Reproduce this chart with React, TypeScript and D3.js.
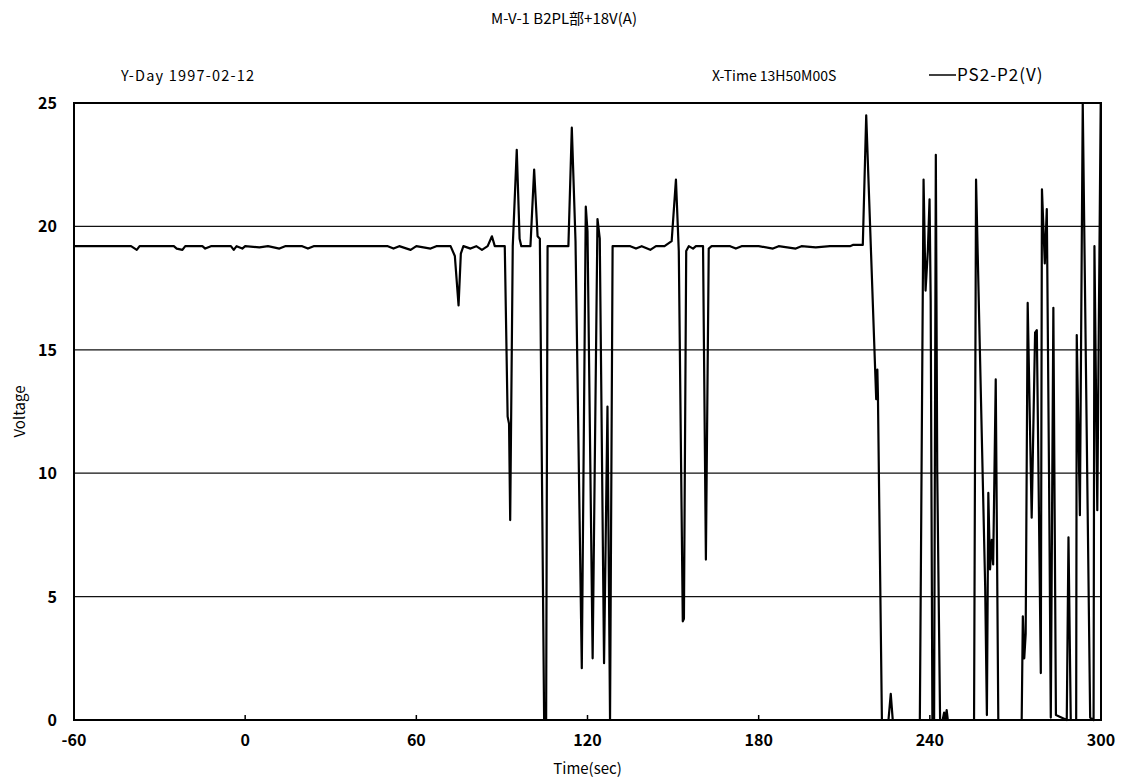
import React from "react";
import * as d3 from "d3";

const title = "M-V-1 B2PL部+18V(A)";
const yDayLabel = "Y-Day 1997-02-12";
const xTimeLabel = "X-Time 13H50M00S";
const seriesName = "PS2-P2(V)";
const xTicks = [-60, 0, 60, 120, 180, 240, 300];
const yTicks = [0, 5, 10, 15, 20, 25];
const gridValues = [5, 10, 15, 20];

const times = [
  -60, -40, -38, -37, -30, -25, -24, -22, -21, -15, -14, -12, -5, -4, -3, -1, 0,
  5, 8, 12, 14, 20, 22, 24, 30, 40, 50, 52, 54, 58, 60, 65, 67,
  72, 73.5, 74.8, 75.6, 76.5, 79, 81, 83, 85, 86.5, 87.5, 91,
  92, 92.5, 92.9, 93.8, 95.2, 96.2, 96.8, 100,
  101.3, 102.5, 103.3, 104.8, 105.5, 106,
  113.3, 114.5, 115.8, 118, 119.4, 120, 121.8, 123.5, 124.3, 125.8, 127, 127.9, 128.8,
  135, 137, 139, 142, 144, 147, 149.5, 151, 152, 153.4, 153.8, 154.6, 155.5, 157, 158,
  160.5, 161.5, 162.5, 163.5,
  170, 172, 174, 180, 185, 187, 193, 195, 200, 205, 212, 213, 216.5,
  217.7, 220.8, 221.2, 221.6, 221.8, 223.2, 225.5, 226.3, 227, 236.5,
  237.8, 238.5, 239.3, 239.9, 240.3, 240.9, 241.5, 242.1, 242.6, 243.6,
  244.5, 245, 245.4, 245.9, 246.3, 255.5,
  256.2, 259.4, 260, 260.5, 261.1, 261.7, 262.2, 263.1, 264,
  272.2, 272.6, 273.1, 273.6, 274.3, 275.7, 276.9, 277.5, 278.9, 279.3, 280.3, 281,
  281.8, 282.4, 283.3, 284.2, 288, 288.6, 289.4, 291.3, 291.5, 292.6, 293.6,
  296.2, 297.4, 297.7, 298.7, 299.2, 299.9,
];

const volts = [
  19.2, 19.2, 19.05, 19.2, 19.2, 19.2, 19.1, 19.05, 19.2, 19.2, 19.1, 19.2, 19.2, 19.05, 19.2, 19.1, 19.2,
  19.15, 19.2, 19.1, 19.2, 19.2, 19.1, 19.2, 19.2, 19.2, 19.2, 19.1, 19.2, 19.05, 19.2, 19.1, 19.2,
  19.2, 18.8, 16.8, 18.9, 19.2, 19.1, 19.2, 19.05, 19.2, 19.6, 19.2, 19.2,
  12.3, 12.0, 8.1, 19.2, 23.1, 19.5, 19.2, 19.2,
  22.3, 19.6, 19.5, 0, 0, 19.2,
  19.2, 24.0, 19.4, 2.1, 20.8, 19.8, 2.5, 20.3, 19.5, 2.3, 12.7, 0, 19.2,
  19.2, 19.1, 19.2, 19.05, 19.2, 19.2, 19.4, 21.9, 19.0, 4.0, 4.1, 19.0, 19.2, 19.1, 19.2,
  19.2, 6.5, 19.1, 19.2,
  19.2, 19.1, 19.2, 19.2, 19.1, 19.2, 19.1, 19.2, 19.15, 19.2, 19.2, 19.25, 19.25,
  24.5, 14.3, 13.0, 14.2, 13.2, 0, 0, 1.06, 0, 0,
  21.9, 17.4, 19.0, 21.1, 17.0, 0, 0, 22.9, 10.0, 0,
  0, 0.3, 0, 0.4, 0, 0,
  21.9, 5.4, 0.2, 9.2, 6.1, 7.3, 6.3, 13.8, 0,
  0, 4.2, 2.5, 3.5, 16.9, 8.2, 15.7, 15.8, 1.9, 21.5, 18.5, 20.7,
  9.7, 0.1, 16.7, 0.2, 0, 7.4, 0, 0, 15.6, 8.3, 25,
  0.1, 0, 19.2, 8.5, 15.5, 25,
];

const W = 1126;
const H = 782;
const left = 74;
const right = 1101;
const top = 103;
const bottom = 720;

const fontFamily = "'Liberation Sans Narrow', 'Noto Sans CJK JP', 'Liberation Sans', sans-serif";

export default function App() {
  const x = d3.scaleLinear().domain([-60, 300]).range([left, right]);
  const y = d3.scaleLinear().domain([0, 25]).range([bottom, top]);
  const pts = times.map((t, i) => [t, volts[i]] as [number, number]);
  const line = d3
    .line<[number, number]>()
    .x((d) => x(d[0]))
    .y((d) => y(d[1]))(pts);

  return (
    <svg
      width={W}
      height={H}
      style={{ position: "absolute", left: 0, top: 0, background: "#fff" }}
      fontFamily={fontFamily}
    >
      <rect x={0} y={0} width={W} height={H} fill="#fff" />
      <text x={564} y={24} textAnchor="middle" fontSize={15}>
        {title}
      </text>
      <text x={121} y={81} fontSize={14.5} letterSpacing={1.2}>
        {yDayLabel}
      </text>
      <text x={712} y={81} fontSize={14}>
        {xTimeLabel}
      </text>
      <line x1={929} x2={956} y1={75} y2={75} stroke="#000" strokeWidth={1.5} />
      <text x={957} y={81} fontSize={17} letterSpacing={1}>
        {seriesName}
      </text>

      {gridValues.map((v) => (
        <line key={v} x1={left} x2={right} y1={y(v)} y2={y(v)} stroke="#111" strokeWidth={1.2} />
      ))}

      {xTicks.map((t) => (
        <g key={t}>
          <line x1={x(t)} x2={x(t)} y1={bottom} y2={bottom - 5} stroke="#000" strokeWidth={1.5} />
          <text x={x(t)} y={bottom + 26} textAnchor="middle" fontSize={16} fontWeight="bold">
            {t}
          </text>
        </g>
      ))}
      {yTicks.map((v) => (
        <text key={v} x={left - 17} y={y(v) + 6} textAnchor="end" fontSize={16} fontWeight="bold">
          {v}
        </text>
      ))}

      <path d={line ?? ""} fill="none" stroke="#000" strokeWidth={2.2} strokeLinejoin="round" />

      <rect x={left} y={top} width={right - left} height={bottom - top} fill="none" stroke="#000" strokeWidth={2} />

      <text x={(left + right) / 2} y={774} textAnchor="middle" fontSize={15}>
        Time(sec)
      </text>
      <text transform={`translate(25,${(top + bottom) / 2}) rotate(-90)`} textAnchor="middle" fontSize={15}>
        Voltage
      </text>
    </svg>
  );
}
